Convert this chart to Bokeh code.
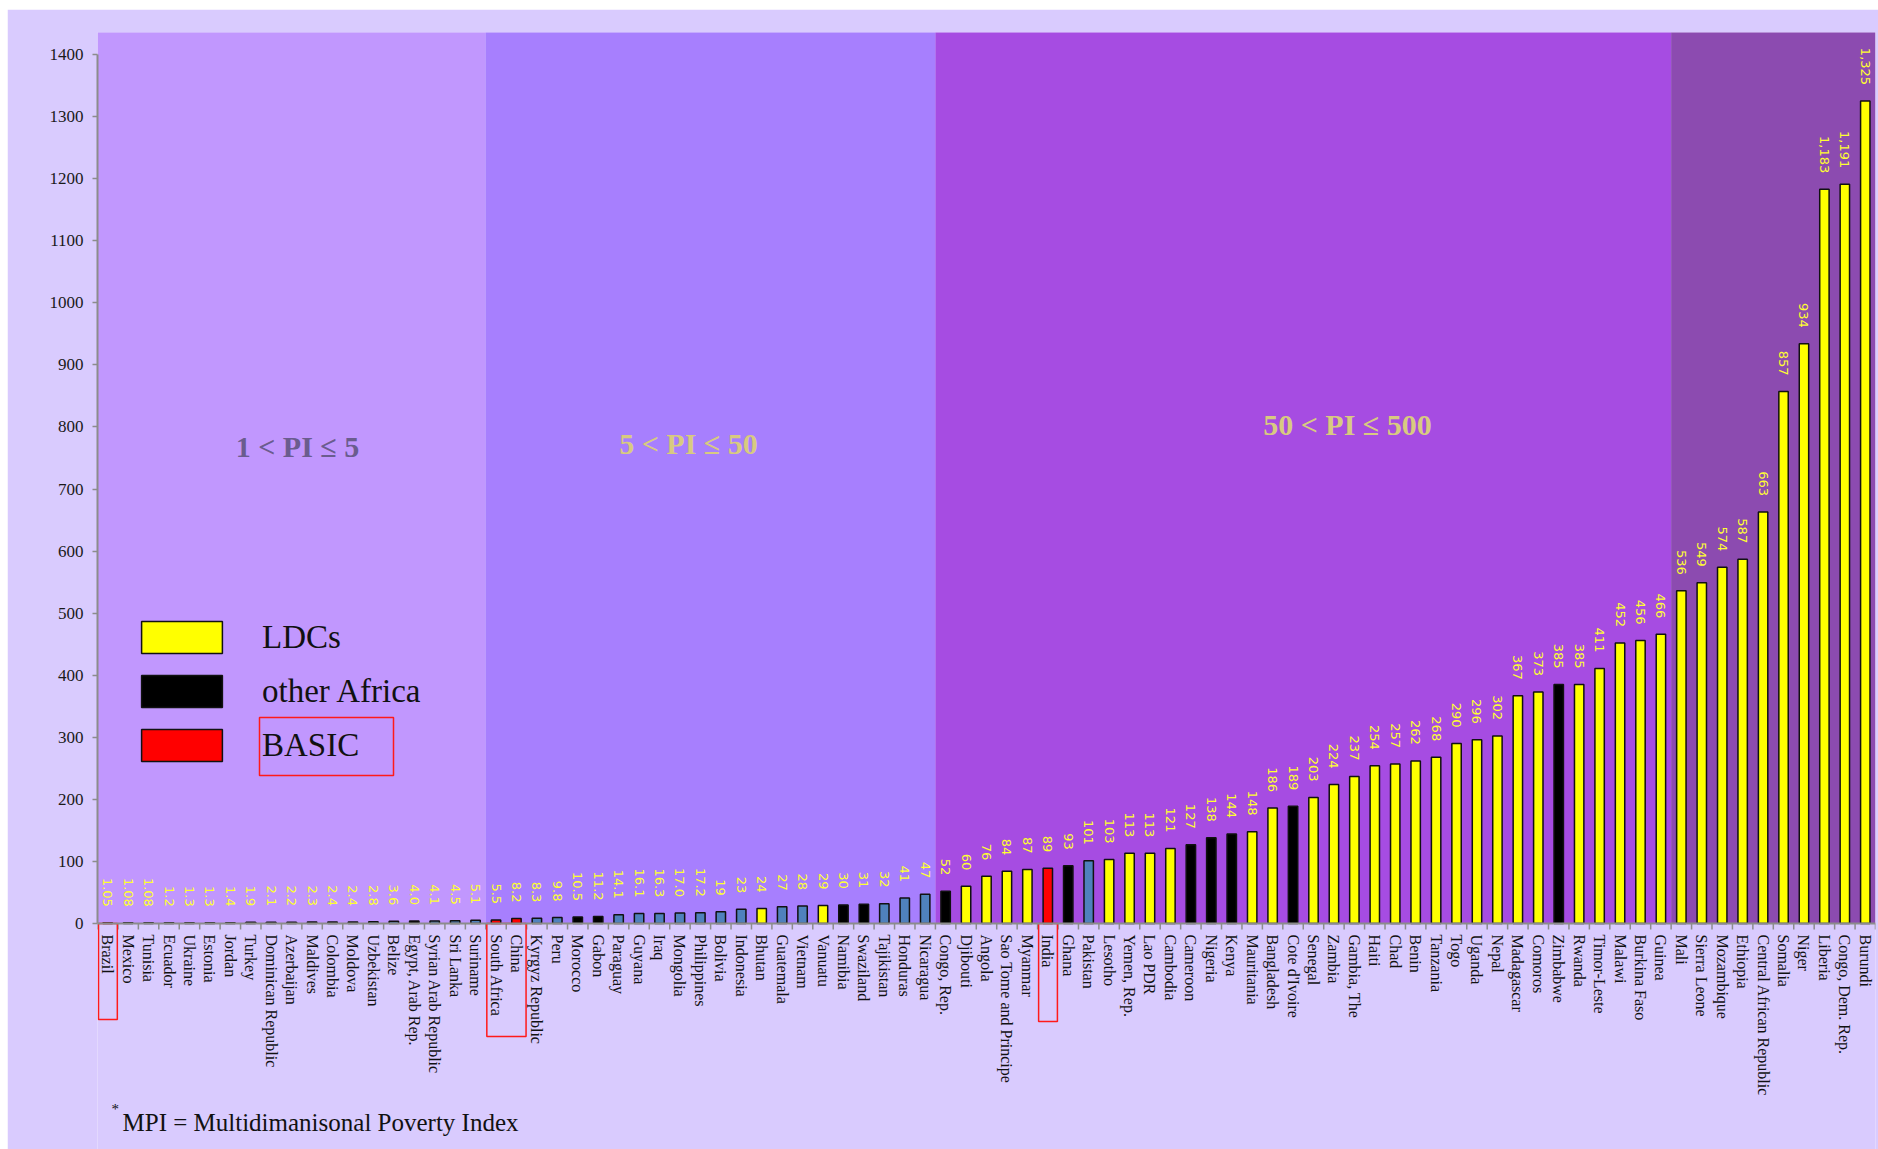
import math
from bokeh.plotting import figure
from bokeh.models import Range1d, FixedTicker, Span, Legend, LegendItem, ColumnDataSource, Label
from bokeh.core.properties import value
from bokeh.embed import file_html
from bokeh.resources import INLINE

# ---------------- data ----------------
countries = [
    "Brazil", "Mexico", "Tunisia", "Ecuador", "Ukraine", "Estonia", "Jordan", "Turkey",
    "Dominican Republic", "Azerbaijan", "Maldives", "Colombia", "Moldova", "Uzbekistan",
    "Belize", "Egypt, Arab Rep.", "Syrian Arab Republic", "Sri Lanka", "Suriname",
    "South Africa", "China", "Kyrgyz Republic", "Peru", "Morocco", "Gabon", "Paraguay",
    "Guyana", "Iraq", "Mongolia", "Philippines", "Bolivia", "Indonesia", "Bhutan",
    "Guatemala", "Vietnam", "Vanuatu", "Namibia", "Swaziland", "Tajikistan", "Honduras",
    "Nicaragua", "Congo, Rep.", "Djibouti", "Angola", "Sao Tome and Principe", "Myanmar",
    "India", "Ghana", "Pakistan", "Lesotho", "Yemen, Rep.", "Lao PDR", "Cambodia",
    "Cameroon", "Nigeria", "Kenya", "Mauritania", "Bangladesh", "Cote d'Ivoire", "Senegal",
    "Zambia", "Gambia, The", "Haiti", "Chad", "Benin", "Tanzania", "Togo", "Uganda", "Nepal",
    "Madagascar", "Comoros", "Zimbabwe", "Rwanda", "Timor-Leste", "Malawi", "Burkina Faso",
    "Guinea", "Mali", "Sierra Leone", "Mozambique", "Ethiopia", "Central African Republic",
    "Somalia", "Niger", "Liberia", "Congo, Dem. Rep.", "Burundi",
]
mpi_values = [
    1.05, 1.08, 1.08, 1.2, 1.3, 1.3, 1.4, 1.9, 2.1, 2.2, 2.3, 2.4, 2.4, 2.8, 3.6, 4.0, 4.1,
    4.5, 5.1, 5.5, 8.2, 8.3, 9.8, 10.5, 11.2, 14.1, 16.1, 16.3, 17.0, 17.2, 19, 23, 24, 27,
    28, 29, 30, 31, 32, 41, 47, 52, 60, 76, 84, 87, 89, 93, 101, 103, 113, 113, 121, 127,
    138, 144, 148, 186, 189, 203, 224, 237, 254, 257, 262, 268, 290, 296, 302, 367, 373,
    385, 385, 411, 452, 456, 466, 536, 549, 574, 587, 663, 857, 934, 1183, 1191, 1325,
]
value_labels = [
    "1.05", "1.08", "1.08", "1.2", "1.3", "1.3", "1.4", "1.9", "2.1", "2.2", "2.3", "2.4",
    "2.4", "2.8", "3.6", "4.0", "4.1", "4.5", "5.1", "5.5", "8.2", "8.3", "9.8", "10.5",
    "11.2", "14.1", "16.1", "16.3", "17.0", "17.2", "19", "23", "24", "27", "28", "29", "30",
    "31", "32", "41", "47", "52", "60", "76", "84", "87", "89", "93", "101", "103", "113",
    "113", "121", "127", "138", "144", "148", "186", "189", "203", "224", "237", "254", "257",
    "262", "268", "290", "296", "302", "367", "373", "385", "385", "411", "452", "456", "466",
    "536", "549", "574", "587", "663", "857", "934", "1,183", "1,191", "1,325",
]
# B = BASIC, A = other Africa, L = LDC, O = other
groups = list(
    "BOAOOOOOOOOOOOOAOOO"      # Brazil .. Suriname
    "BBOOAAOOOOOOOLOOLAAOOO"   # South Africa .. Nicaragua
    "ALLLLBAOLLLLAAALLALLL"    # Congo, Rep. .. Gambia, The
    "LLLLLLLLLAL" "LLLLL"      # Haiti .. Guinea
    "LLLLLLLLLL"               # Mali .. Burundi
)
group_names = {"L": "LDCs", "A": "other Africa", "B": "BASIC", "O": "other"}
band_first_country = ["Brazil", "South Africa", "Congo, Rep.", "Mali"]
band_titles = ["1 < PI \u2264 5", "5 < PI \u2264 50", "50 < PI \u2264 500", ""]
highlighted = [["Brazil"], ["South Africa", "China"], ["India"]]
y_ticks = list(range(0, 1401, 100))
footnote = "MPI = Multidimanisonal Poverty Index"

# ---------------- style ----------------
LAV = "#D9CBFE"
band_colors = ["#C197FE", "#A77FFE", "#A64CE2", "#8C4BB0"]
group_colors = {"L": "#FFFF00", "A": "#000000", "B": "#FF0000", "O": "#4F81BD"}
band_title_colors = ["#6A5C8E", "#D8CA80", "#D8CA80", "#D8CA80"]
band_title_pos = [(297, 446), (688, 443), (1347, 424)]   # page px
box_depth_px = [96, 113, 98]
AX_GRAY = "#8C8C8C"
SERIF = "Liberation Serif"

OFF_X, OFF_Y = 7, 9              # white page strip left/top
W, H = 1871, 1140
B_LEFT, B_RIGHT, B_TOP, B_BOTTOM = 90, 3, 23, 0
n = len(countries)
X0, X1 = -0.5, n - 0.5
Y_TOP = 1435.5
PX_PER_UNIT = 891 / Y_TOP
frame_w = W - B_LEFT - B_RIGHT
frame_h = H - B_TOP - B_BOTTOM
Y_BOTTOM = Y_TOP - frame_h / PX_PER_UNIT
PX_PER_X = frame_w / (X1 - X0)
FRAME_LEFT_PAGE = OFF_X + B_LEFT
FRAME_TOP_PAGE = OFF_Y + B_TOP


def to_x(px):
    return X0 + (px - FRAME_LEFT_PAGE) / PX_PER_X


def to_y(py):
    return Y_TOP - (py - FRAME_TOP_PAGE) / PX_PER_UNIT


p = figure(
    width=W, height=H,
    x_range=Range1d(X0, X1), y_range=Range1d(Y_BOTTOM, Y_TOP),
    x_axis_location=None,
    output_backend="svg", toolbar_location=None,
    min_border_left=B_LEFT, min_border_right=B_RIGHT,
    min_border_top=B_TOP, min_border_bottom=B_BOTTOM,
    background_fill_color=LAV, border_fill_color=LAV,
    outline_line_color=None,
)
p.styles = {"margin-left": f"{OFF_X}px", "margin-top": f"{OFF_Y}px"}
p.xgrid.visible = False
p.ygrid.visible = False

# background bands
idx = list(range(n))
starts = [countries.index(c) for c in band_first_country]
ends = starts[1:] + [n]
p.quad(left=[s - 0.5 for s in starts], right=[e - 0.5 for e in ends],
       bottom=[0] * len(starts), top=[Y_TOP + 10] * len(starts),
       fill_color=band_colors, line_color=None, level="underlay")

# bars by group
renderers = {}
for g in ["O", "A", "L", "B"]:
    sel = [i for i in idx if groups[i] == g]
    src = ColumnDataSource(dict(x=sel, top=[mpi_values[i] for i in sel]))
    renderers[g] = p.vbar(x="x", top="top", width=0.46, source=src,
                          fill_color=group_colors[g], line_color="#111111", line_width=1.5)

# x axis line and boundary ticks
p.add_layout(Span(location=0, dimension="width", line_color=AX_GRAY, line_width=2))
tick_len = 6 / PX_PER_UNIT
bounds_x = [i - 0.5 for i in range(n + 1)]
p.segment(x0=bounds_x, y0=[0] * len(bounds_x), x1=bounds_x, y1=[-tick_len] * len(bounds_x),
          line_color=AX_GRAY, line_width=1.5)

# value labels
p.text(x=idx, y=mpi_values, text=value_labels, angle=-math.pi / 2,
       text_align="right", text_baseline="middle", y_offset=-16,
       text_font=value("DejaVu Sans"), text_font_size="13px", text_color="#FFFF30")

# category labels
p.text(x=idx, y=[0] * n, text=countries, angle=-math.pi / 2,
       text_align="left", text_baseline="middle", y_offset=11,
       text_font=value(SERIF), text_font_size="16px", text_color="#111111")

# highlight boxes (BASIC countries)
hl_left, hl_right, hl_bottom = [], [], []
for names, depth in zip(highlighted, box_depth_px):
    ii = [countries.index(c) for c in names]
    hl_left.append(min(ii) - 0.45)
    hl_right.append(max(ii) + 0.47)
    hl_bottom.append(-depth / PX_PER_UNIT)
p.quad(left=hl_left, right=hl_right, top=[0] * len(hl_left), bottom=hl_bottom,
       fill_color=None, line_color="#FF1A1A", line_width=1.5)

# band titles
for t, c, (px, py) in zip(band_titles, band_title_colors, band_title_pos):
    p.add_layout(Label(x=to_x(px), y=to_y(py), text=t, text_align="center",
                       text_baseline="middle", text_font=SERIF, text_font_size="30px",
                       text_font_style="bold", text_color=c))

# y axis
p.yaxis.ticker = FixedTicker(ticks=y_ticks)
p.yaxis.bounds = (0, 1400)
p.yaxis.axis_line_color = AX_GRAY
p.yaxis.axis_line_width = 2
p.yaxis.major_tick_line_color = AX_GRAY
p.yaxis.major_tick_line_width = 1.5
p.yaxis.major_tick_out = 5
p.yaxis.major_tick_in = 0
p.yaxis.minor_tick_line_color = None
p.yaxis.major_label_text_font = SERIF
p.yaxis.major_label_text_font_size = "17px"
p.yaxis.major_label_text_color = "#1A1A1A"
p.yaxis.major_label_standoff = 9

# legend (area glyphs are drawn with a 10% inset)
legend = Legend(
    items=[LegendItem(label=group_names[g], renderers=[renderers[g]]) for g in ["L", "A", "B"]],
    location=(131 - FRAME_LEFT_PAGE, (OFF_Y + H) - 765), orientation="vertical",
    glyph_width=101, glyph_height=40, label_height=40, spacing=14,
    padding=0, margin=0, label_standoff=30,
    label_text_font=SERIF, label_text_font_size="33px", label_text_color="#111111",
    background_fill_alpha=0, border_line_alpha=0,
)
p.add_layout(legend)
p.quad(left=[to_x(259)], right=[to_x(393)], top=[to_y(717)], bottom=[to_y(775)],
       fill_color=None, line_color="#FF1A1A", line_width=1.5)

# footnote
p.add_layout(Label(x=to_x(111), y=to_y(1108), text="*", text_align="left",
                   text_baseline="middle", text_font=SERIF, text_font_size="15px",
                   text_color="#111111"))
p.add_layout(Label(x=to_x(122), y=to_y(1122), text=footnote, text_align="left",
                   text_baseline="middle", text_font=SERIF, text_font_size="25px",
                   text_color="#111111"))

open("out.html", "w").write(file_html(p, INLINE))
